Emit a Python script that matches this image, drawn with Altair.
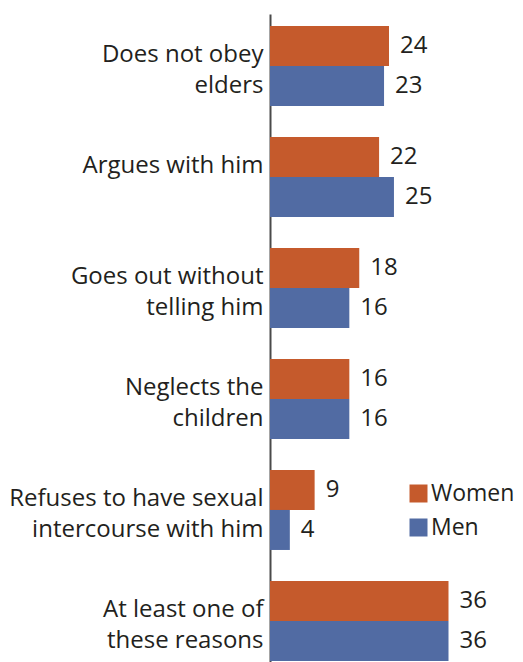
import altair as alt
import pandas as pd

categories = [
    "Does not obey\nelders",
    "Argues with him",
    "Goes out without\ntelling him",
    "Neglects the\nchildren",
    "Refuses to have sexual\nintercourse with him",
    "At least one of\nthese reasons",
]
women = [24, 22, 18, 16, 9, 36]
men = [23, 25, 16, 16, 4, 36]
series = ["Women", "Men"]
colors = ["#C55A2C", "#516BA3"]

rows = []
for c, w, m in zip(categories, women, men):
    rows.append({"cat": c, "series": "Women", "value": w})
    rows.append({"cat": c, "series": "Men", "value": m})
df = pd.DataFrame(rows)

FONT = "Open Sans"
TEXT_COLOR = "#231F20"

y_enc = alt.Y(
    "cat:N",
    sort=categories,
    scale=alt.Scale(paddingInner=0.279, paddingOuter=0.0585, align=0.92),
    axis=alt.Axis(
        title=None,
        ticks=False,
        labelExpr="split(datum.label, '\\n')",
        labelFont=FONT,
        labelFontSize=24,
        labelColor=TEXT_COLOR,
        labelPadding=7,
        labelLineHeight=31,
        labelOffset=-11,
        labelLimit=400,
        domainColor="#4a4a4a",
        domainWidth=2,
    ),
)
yoff = alt.YOffset("series:N", sort=series, scale=alt.Scale(paddingInner=0, paddingOuter=0))
x_enc = alt.X("value:Q", scale=alt.Scale(domain=[0, 48]), axis=None)

base = alt.Chart(df).encode(y=y_enc, yOffset=yoff, x=x_enc)

bars = base.mark_bar().encode(
    color=alt.Color(
        "series:N",
        sort=series,
        scale=alt.Scale(domain=series, range=colors),
        legend=alt.Legend(
            title=None,
            orient="none",
            legendX=137,
            legendY=468,
            symbolType="square",
            symbolSize=324,
            symbolStrokeWidth=0,
            symbolOpacity=1,
            labelFont=FONT,
            labelFontSize=23,
            labelColor=TEXT_COLOR,
            labelOffset=1,
            rowPadding=10,
            padding=0,
        ),
    )
)

labels = base.mark_text(
    align="left", baseline="middle", dx=11, font=FONT, fontSize=24, color=TEXT_COLOR
).encode(text=alt.Text("value:Q"))

chart = (
    alt.layer(bars, labels)
    .properties(
        width=238,
        height=648,
        autosize=alt.AutoSizeParams(type="none"),
        padding={"left": 262, "top": 6, "right": 7, "bottom": 0},
    )
    .configure_view(stroke=None)
)

chart.save("out.html", embed_options={"renderer": "svg", "actions": False})
